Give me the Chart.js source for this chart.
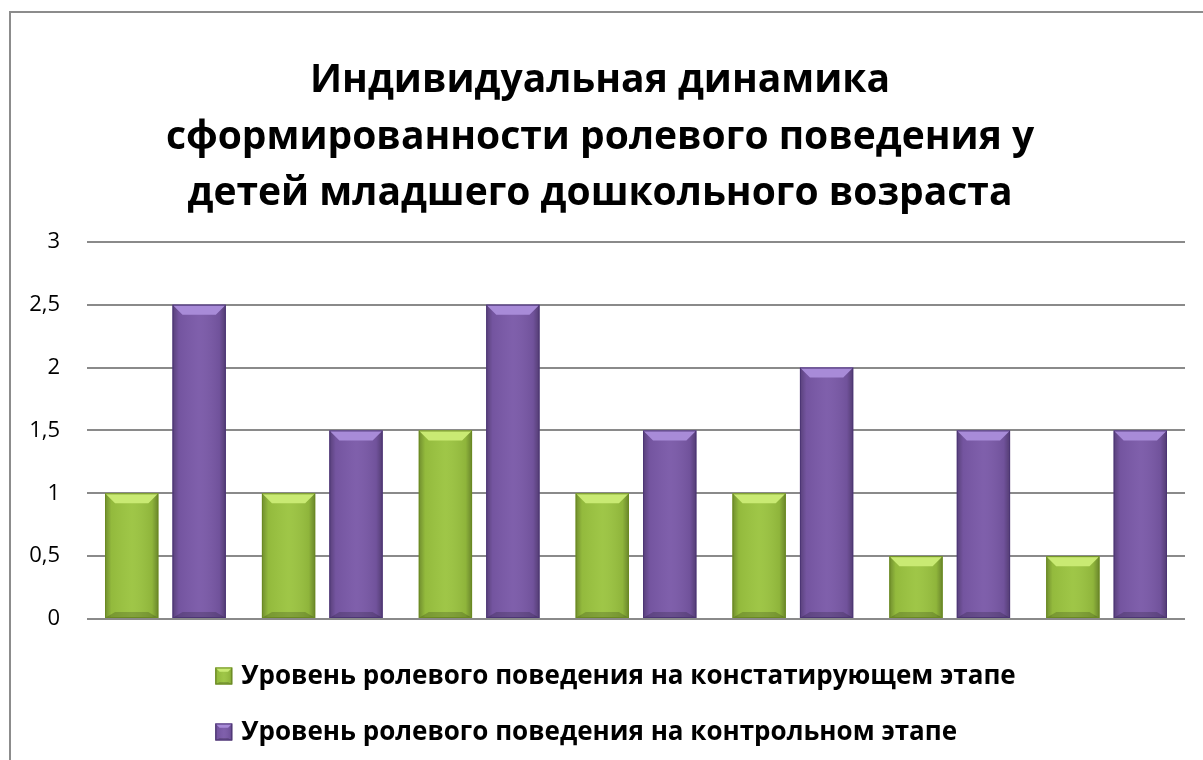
<!DOCTYPE html>
<html>
<head>
<meta charset="utf-8">
<script src="https://cdn.jsdelivr.net/npm/chart.js@4.4.1/dist/chart.umd.min.js"></script>
<style>
  html, body { margin: 0; padding: 0; background: #fff; }
  #frame { position: absolute; left: 9px; top: 11px; width: 1300px; height: 800px;
           border-left: 2px solid #8c8c8c; border-top: 2px solid #8c8c8c; }
  #wrap { position: absolute; left: 0; top: 0; width: 1203px; height: 760px; }
</style>
</head>
<body>
<div id="frame"></div>
<div id="wrap"><canvas id="grafico"></canvas></div>
<script>
// данные диаграммы
const categorias = ['1', '2', '3', '4', '5', '6', '7'];
const nivelConstat = [1, 1, 1.5, 1, 1, 0.5, 0.5];
const nivelControl = [2.5, 1.5, 2.5, 1.5, 2, 1.5, 1.5];
const etiquetas = [
    'Уровень ролевого поведения на констатирующем этапе',
    'Уровень ролевого поведения на контрольном этапе'
];
const titulo = [
    'Индивидуальная динамика',
    'сформированности ролевого поведения у',
    'детей младшего дошкольного возраста'
];

const colores = [
    { mid: '#9bc440', dark: '#6b8a22', light: '#c9ea73' },
    { mid: '#7a59a8', dark: '#4c3575', light: '#a88bd8' }
];

function pintarBarra(ctx, left, top, right, bottom, col, b) {
    const w = right - left, h = bottom - top;
    b = Math.min(b, w / 4, h / 3);
    // sombreado lateral
    const g = ctx.createLinearGradient(left, 0, right, 0);
    g.addColorStop(0, 'rgba(0,0,0,0.28)');
    g.addColorStop(0.12, 'rgba(0,0,0,0.05)');
    g.addColorStop(0.5, 'rgba(255,255,255,0.04)');
    g.addColorStop(0.88, 'rgba(0,0,0,0.08)');
    g.addColorStop(1, 'rgba(0,0,0,0.32)');
    ctx.fillStyle = g;
    ctx.fillRect(left, top, w, h);
    // bisel superior
    ctx.beginPath();
    ctx.moveTo(left, top);
    ctx.lineTo(right, top);
    ctx.lineTo(right - b, top + b);
    ctx.lineTo(left + b, top + b);
    ctx.closePath();
    ctx.fillStyle = col.light;
    ctx.fill();
    // bisel inferior
    ctx.beginPath();
    ctx.moveTo(left, bottom);
    ctx.lineTo(right, bottom);
    ctx.lineTo(right - b, bottom - b * 0.6);
    ctx.lineTo(left + b, bottom - b * 0.6);
    ctx.closePath();
    ctx.fillStyle = 'rgba(0,0,0,0.18)';
    ctx.fill();
    ctx.strokeStyle = col.dark;
    ctx.lineWidth = 1;
    ctx.strokeRect(left + 0.5, top + 0.5, w - 1, h - 1);
}

const biselPlugin = {
    id: 'bisel',
    afterDatasetsDraw(chart) {
        const ctx = chart.ctx;
        chart.data.datasets.forEach((ds, i) => {
            chart.getDatasetMeta(i).data.forEach(bar => {
                const p = bar.getProps(['x', 'y', 'base', 'width'], true);
                ctx.save();
                pintarBarra(ctx, p.x - p.width / 2, p.y, p.x + p.width / 2, p.base, colores[i], 10);
                ctx.restore();
            });
        });
    }
};

const leyendaPlugin = {
    id: 'leyenda',
    afterDraw(chart) {
        const ctx = chart.ctx;
        ctx.save();
        ctx.font = 'bold 26px "Open Sans"';
        ctx.textBaseline = 'middle';
        const caja = 17, sep = 9;
        const anchos = etiquetas.map(t => ctx.measureText(t).width);
        const total = caja + sep + Math.max(...anchos);
        const x0 = chart.width / 2 + 14 - total / 2;
        etiquetas.forEach((t, i) => {
            const y = chart.chartArea.bottom + 57 + i * 56;
            ctx.fillStyle = colores[i].mid;
            ctx.fillRect(x0, y - caja / 2, caja, caja);
            pintarBarra(ctx, x0, y - caja / 2, x0 + caja, y + caja / 2, colores[i], 5);
            ctx.fillStyle = '#000';
            ctx.fillText(t, x0 + caja + sep, y + 1);
        });
        ctx.restore();
    }
};

const ctx = document.getElementById('grafico').getContext('2d');
new Chart(ctx, {
    type: 'bar',
    data: {
        labels: categorias,
        datasets: [{
            label: etiquetas[0],
            data: nivelConstat,
            backgroundColor: colores[0].mid,
            categoryPercentage: 0.86,
            barPercentage: 0.79
        }, {
            label: etiquetas[1],
            data: nivelControl,
            backgroundColor: colores[1].mid,
            categoryPercentage: 0.86,
            barPercentage: 0.79
        }]
    },
    options: {
        responsive: true,
        maintainAspectRatio: false,
        animation: false,
        layout: { padding: { top: 52, left: 15, right: 18, bottom: 133 } },
        plugins: {
            legend: { display: false },
            tooltip: { enabled: false },
            title: {
                display: true,
                text: titulo,
                color: '#000',
                font: { family: 'Open Sans', size: 39, weight: 'bold', lineHeight: 1.46 },
                padding: { top: 0, bottom: 19 }
            }
        },
        scales: {
            x: {
                ticks: { display: false },
                grid: { display: false },
                border: { display: false }
            },
            y: {
                min: 0,
                max: 3,
                afterFit: scale => { scale.width = 72; },
                ticks: {
                    stepSize: 0.5,
                    color: '#000',
                    padding: 27,
                    font: { family: 'Open Sans', size: 22 },
                    callback: v => String(v).replace('.', ',')
                },
                grid: { color: '#8a8a8a', lineWidth: 2, drawTicks: false },
                border: { display: false }
            }
        }
    },
    plugins: [biselPlugin, leyendaPlugin]
});
</script>
</body>
</html>
